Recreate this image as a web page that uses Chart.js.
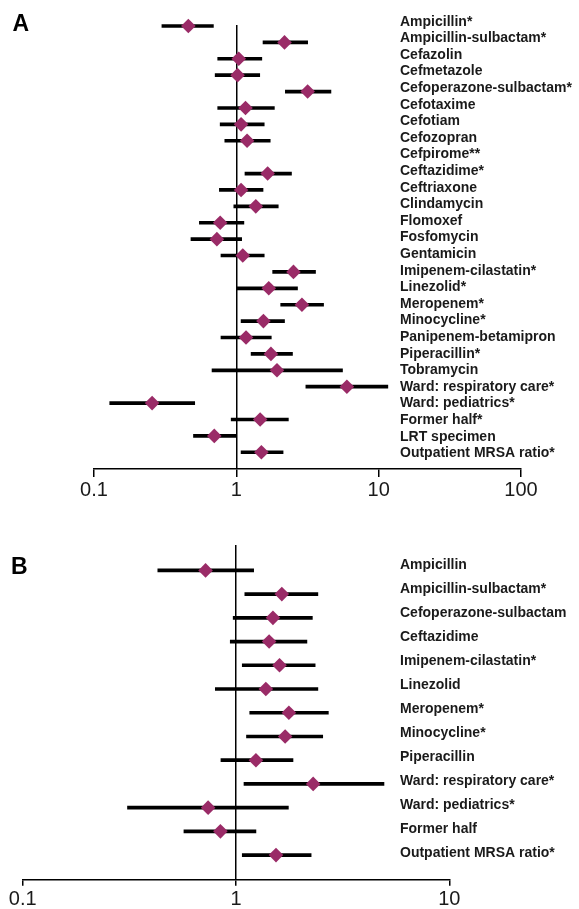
<!DOCTYPE html>
<html>
<head>
<meta charset="utf-8">
<script src="https://cdn.jsdelivr.net/npm/chart.js@4.4.1/dist/chart.umd.min.js"></script>
<style>
    body { margin: 0; background: #fff; overflow: hidden; }
    .panel-letter {
        position: absolute;
        font: bold 23px 'Liberation Sans', Arial, sans-serif;
        line-height: 23px;
        color: #000;
    }
    .chart-box { position: absolute; left: 0; width: 579px; }
</style>
</head>
<body>
<div class="chart-box" style="top:0; height:520px;"><canvas id="chart-a"></canvas></div>
<div class="chart-box" style="top:520px; height:400px;"><canvas id="chart-b"></canvas></div>
<div class="panel-letter" style="left:12.5px; top:12px;">A</div>
<div class="panel-letter" style="left:11px; top:555px;">B</div>

<script>
// Panel A
const categoriesA = [
    'Ampicillin*', 'Ampicillin-sulbactam*', 'Cefazolin', 'Cefmetazole', 'Cefoperazone-sulbactam*',
    'Cefotaxime', 'Cefotiam', 'Cefozopran', 'Cefpirome**', 'Ceftazidime*', 'Ceftriaxone',
    'Clindamycin', 'Flomoxef', 'Fosfomycin', 'Gentamicin', 'Imipenem-cilastatin*', 'Linezolid*',
    'Meropenem*', 'Minocycline*', 'Panipenem-betamipron', 'Piperacillin*', 'Tobramycin',
    'Ward: respiratory care*', 'Ward: pediatrics*', 'Former half*', 'LRT specimen', 'Outpatient MRSA ratio*'
];
const oddsA  = [0.46, 2.18, 1.04, 1.02, 3.17, 1.16, 1.08, 1.19, null, 1.66, 1.08, 1.37, 0.77, 0.73, 1.11, 2.52, 1.69, 2.89, 1.55, 1.17, 1.75, 1.93, 5.98, 0.256, 1.47, 0.70, 1.50];
const lowerA = [0.30, 1.54, 0.74, 0.71, 2.21, 0.74, 0.77, 0.83, null, 1.15, 0.76, 0.96, 0.55, 0.48, 0.78, 1.80, 1.01, 2.05, 1.08, 0.78, 1.27, 0.675, 3.08, 0.129, 0.92, 0.50, 1.08];
const upperA = [0.69, 3.17, 1.51, 1.46, 4.62, 1.85, 1.57, 1.73, null, 2.44, 1.54, 1.97, 1.13, 1.09, 1.57, 3.60, 2.69, 4.10, 2.18, 1.76, 2.48, 5.57, 11.6, 0.51, 2.32, 1.00, 2.13];
const ticksA = [0.1, 1, 10, 100];

// Panel B
const categoriesB = [
    'Ampicillin', 'Ampicillin-sulbactam*', 'Cefoperazone-sulbactam', 'Ceftazidime',
    'Imipenem-cilastatin*', 'Linezolid', 'Meropenem*', 'Minocycline*', 'Piperacillin',
    'Ward: respiratory care*', 'Ward: pediatrics*', 'Former half', 'Outpatient MRSA ratio*'
];
const oddsB  = [0.72, 1.64, 1.49, 1.43, 1.60, 1.38, 1.77, 1.70, 1.24, 2.30, 0.74, 0.845, 1.54];
const lowerB = [0.43, 1.10, 0.97, 0.94, 1.07, 0.80, 1.16, 1.12, 0.85, 1.09, 0.31, 0.57, 1.07];
const upperB = [1.21, 2.42, 2.28, 2.15, 2.35, 2.42, 2.71, 2.55, 1.85, 4.94, 1.76, 1.24, 2.25];
const ticksB = [0.1, 1, 10];

const FONT = "'Liberation Sans', Arial, sans-serif";
const MARKER_COLOR = '#9a2b67';

Chart.defaults.font.family = FONT;

// draws the row names to the right, lined up with the rows of the y scale
function rowLabelsPlugin(labels, x, shiftTop, shiftBottom) {
    return {
        id: 'rowLabels',
        afterDraw(chart) {
            const { ctx } = chart;
            const y = chart.scales.y;
            const n = labels.length;
            ctx.save();
            ctx.font = 'bold 14px ' + FONT;
            ctx.fillStyle = '#1a1a1a';
            ctx.textAlign = 'left';
            ctx.textBaseline = 'middle';
            labels.forEach((label, i) => {
                const shift = shiftTop + (shiftBottom - shiftTop) * i / (n - 1);
                ctx.fillText(label, x, y.getPixelForValue(i) + shift);
            });
            ctx.restore();
        }
    };
}

function forestPlot(canvasId, cfg) {
    const intervals = cfg.categories
        .map((c, i) => ({ x: [cfg.lower[i], cfg.upper[i]], y: i }))
        .filter(d => d.x[0] != null);
    const points = cfg.categories
        .map((c, i) => ({ x: cfg.odds[i], y: i }))
        .filter(d => d.x != null);

    return new Chart(canvasId, {
        type: 'bar',
        data: {
            datasets: [
                {
                    type: 'scatter',
                    data: points,
                    pointStyle: 'rectRot',
                    pointRadius: 7.3,
                    pointHoverRadius: 7.3,
                    backgroundColor: MARKER_COLOR,
                    pointBackgroundColor: MARKER_COLOR,
                    borderWidth: 0,
                    pointBorderWidth: 0,
                    clip: false,
                    order: 0
                },
                {
                    type: 'bar',
                    indexAxis: 'y',
                    data: intervals,
                    backgroundColor: '#000',
                    borderWidth: 0,
                    barThickness: 3,
                    clip: false,
                    order: 1
                }
            ]
        },
        options: {
            indexAxis: 'y',
            responsive: true,
            maintainAspectRatio: false,
            animation: false,
            layout: { padding: cfg.padding },
            plugins: {
                legend: { display: false },
                tooltip: { enabled: false }
            },
            scales: {
                x: {
                    type: 'logarithmic',
                    min: cfg.ticks[0],
                    max: cfg.ticks[cfg.ticks.length - 1],
                    offset: false,
                    afterBuildTicks: scale => {
                        scale.ticks = cfg.ticks.map(v => ({ value: v }));
                    },
                    ticks: {
                        callback: v => String(v),
                        font: { size: 20 },
                        color: '#1a1a1a',
                        padding: cfg.tickPadding,
                        autoSkip: false,
                        maxRotation: 0
                    },
                    grid: {
                        offset: false,
                        color: ctx => (ctx.tick && ctx.tick.value === 1) ? '#000' : 'rgba(0,0,0,0)',
                        tickColor: '#000',
                        lineWidth: 1.5,
                        tickLength: cfg.tickLength
                    },
                    border: { display: true, color: '#000', width: 1.5 }
                },
                y: {
                    type: 'linear',
                    reverse: true,
                    offset: false,
                    grid: { offset: false },
                    bounds: 'data',
                    min: cfg.yMin,
                    max: cfg.yMax,
                    display: false
                }
            }
        },
        plugins: [rowLabelsPlugin(cfg.categories, 400, cfg.labelShift[0], cfg.labelShift[1])]
    });
}

forestPlot('chart-a', {
    categories: categoriesA, odds: oddsA, lower: lowerA, upper: upperA, ticks: ticksA,
    yMin: -0.06, yMax: 27.02,
    padding: { left: 94, right: 58, top: 25, bottom: 17 },
    tickLength: 8, tickPadding: 1,
    labelShift: [-4.3, 1]
});

forestPlot('chart-b', {
    categories: categoriesB, odds: oddsB, lower: lowerB, upper: upperB, ticks: ticksB,
    yMin: -1.07, yMax: 13.02,
    padding: { left: 22.7, right: 129.7, top: 25, bottom: 6.2 },
    tickLength: 6.5, tickPadding: 2,
    labelShift: [-5.3, -1.7]
});
</script>
</body>
</html>
